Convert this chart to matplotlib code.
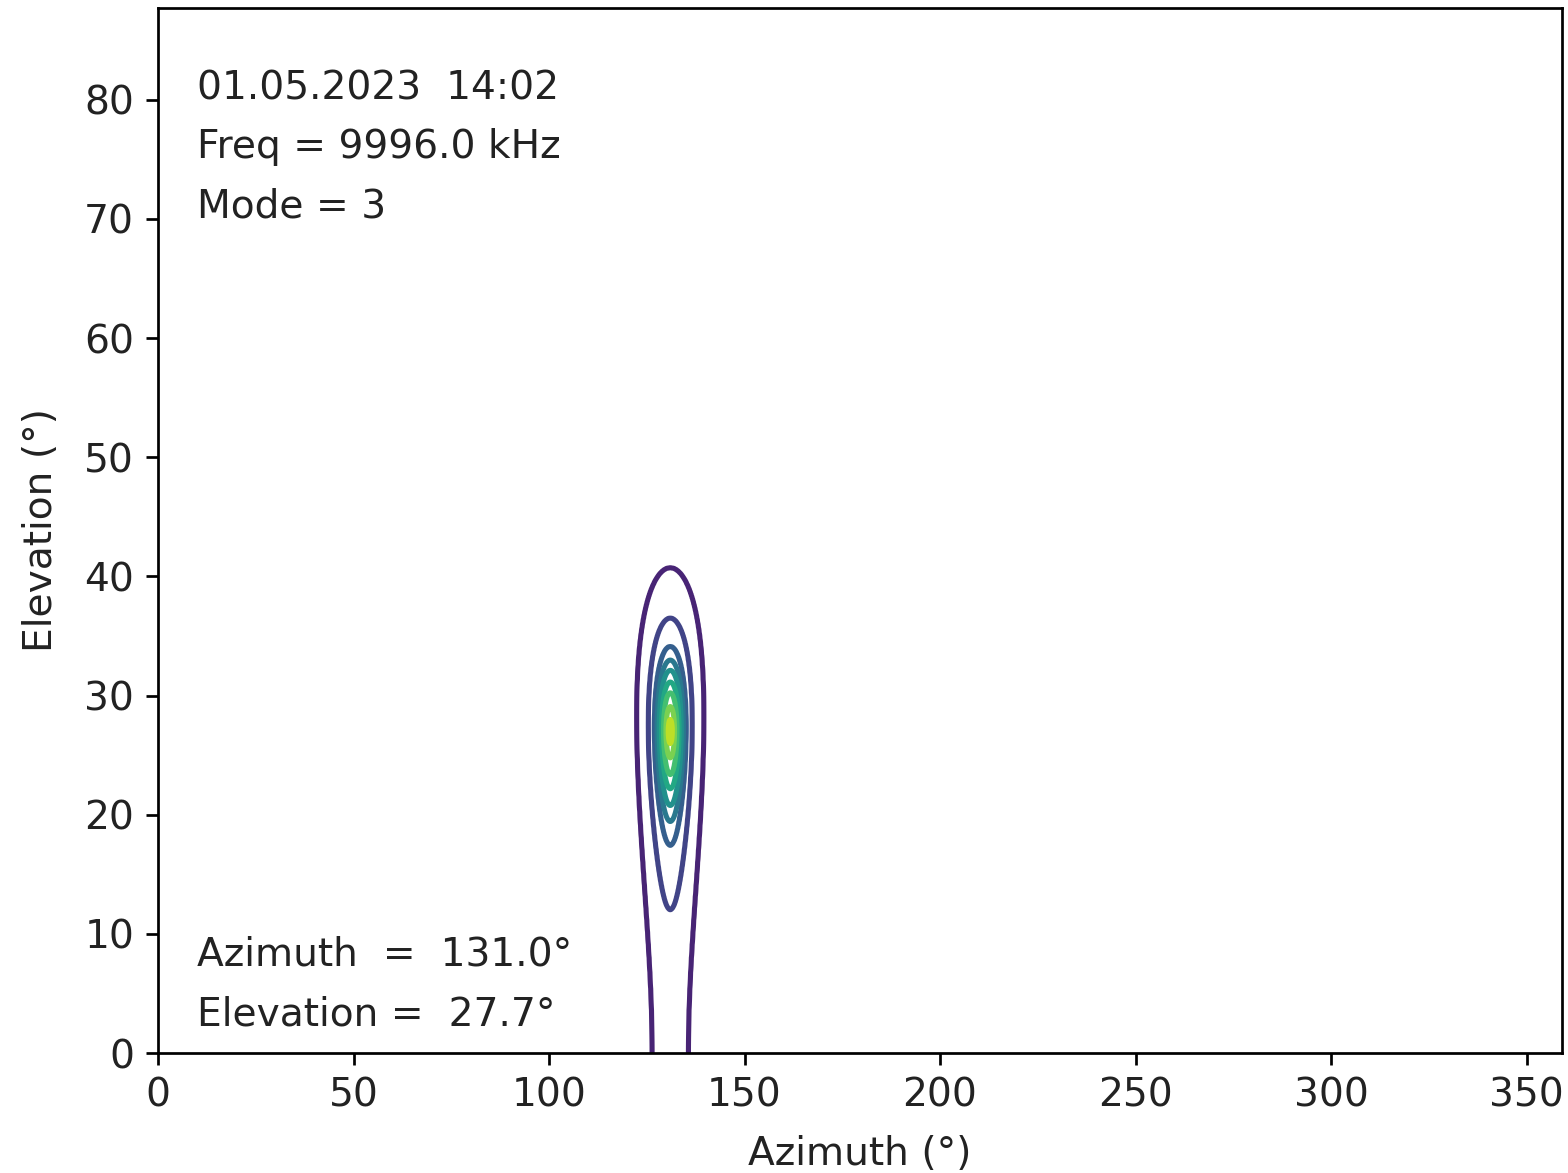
import numpy as np
import matplotlib
matplotlib.use("Agg")
import matplotlib.pyplot as plt

# beam centre (deg) and annotation values
beam_az = 131.0
beam_el = 27.0
peak_az = 131.0
peak_el = 27.7

date_str = "01.05.2023  14:02"
freq_khz = 9996.0
mode = 3

beam_dist = [0.0, 0.008, 0.017, 0.027, 0.035, 0.044, 0.052, 0.063, 0.087, 0.133, 0.20, 0.30, 2.1]
beam_resp = [1.0, 0.9, 0.8, 0.7, 0.6, 0.5, 0.4, 0.3, 0.2, 0.1, 0.03, 0.0, 0.0]

contour_levels = [0.1, 0.2, 0.3, 0.4, 0.5, 0.6, 0.7, 0.8, 0.9]

az_max = 359.0
el_max = 87.7
x_ticks = [0, 50, 100, 150, 200, 250, 300, 350]
y_ticks = [0, 10, 20, 30, 40, 50, 60, 70, 80]

FS = 11.5


def direction_cosines(az_deg, el_deg):
    az = np.radians(az_deg)
    el = np.radians(el_deg)
    return np.cos(el) * np.sin(az), np.cos(el) * np.cos(az)


az = np.arange(0.0, az_max + 0.01, 0.2)
el = np.arange(0.0, el_max + 0.01, 0.1)
AZ, EL = np.meshgrid(az, el)
u, v = direction_cosines(AZ, EL)
u0, v0 = direction_cosines(beam_az, beam_el)
dist = np.hypot(u - u0, v - v0)
resp = np.interp(dist, beam_dist, beam_resp)

fig = plt.figure(figsize=(1568 / 245, 1173 / 245), dpi=245)
ax = fig.add_subplot(111)
fig.subplots_adjust(left=0.1008, right=0.996, bottom=0.1023, top=0.9932)

ax.contour(AZ, EL, resp, levels=contour_levels, cmap="viridis", vmin=0.0, vmax=1.0,
           linewidths=1.5)

ax.set_xlim(0, az_max)
ax.set_ylim(0, el_max)
ax.set_xticks(x_ticks)
ax.set_yticks(y_ticks)
ax.tick_params(labelsize=FS, labelcolor="#222222")
ax.set_xlabel("Azimuth (°)", fontsize=FS, labelpad=6, color="#222222")
ax.set_ylabel("Elevation (°)", fontsize=FS, labelpad=7, color="#222222")

tx = 0.0278
txt = dict(transform=ax.transAxes, fontsize=FS, va="center", color="#222222")
ax.text(tx, 0.923, date_str, **txt)
ax.text(tx, 0.867, f"Freq = {freq_khz:.1f} kHz", **txt)
ax.text(tx, 0.8105, f"Mode = {mode}", **txt)
ax.text(tx, 0.0938, f"Azimuth  =  {peak_az:.1f}°", **txt)
ax.text(tx, 0.0364, f"Elevation =  {peak_el:.1f}°", **txt)

fig.savefig("out.png", dpi=245)
